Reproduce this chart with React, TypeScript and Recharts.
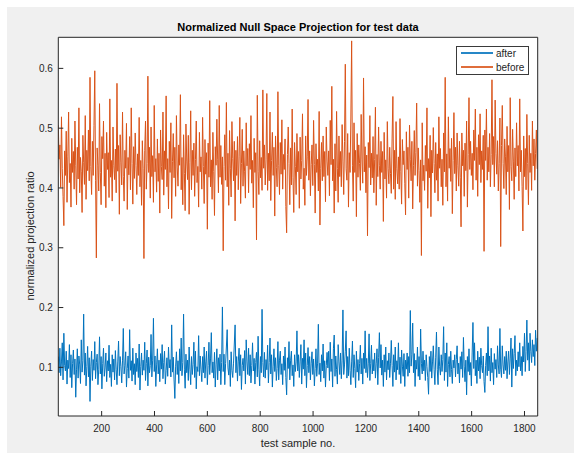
import React from 'react'
import { LineChart, Line, XAxis, YAxis, CartesianGrid, Legend } from 'recharts'

// test sample numbers: every 3rd sample, starting at 36
const sampleStart = 36
const sampleStep = 3

// normalized projection ratio, before
const before = [
  0.505, 0.448, 0.472, 0.401, 0.519, 0.433, 0.386, 0.337, 0.462, 0.421, 0.495, 0.376, 0.452, 0.527, 0.409, 0.441, 0.368, 0.483, 0.426, 0.461,
  0.398, 0.512, 0.437, 0.372, 0.468, 0.415, 0.534, 0.392, 0.451, 0.427, 0.359, 0.488, 0.443, 0.406, 0.521, 0.381, 0.463, 0.429, 0.497, 0.412,
  0.585, 0.436, 0.389, 0.478, 0.421, 0.504, 0.596, 0.412, 0.283, 0.467, 0.438, 0.395, 0.541, 0.426, 0.372, 0.486, 0.449, 0.512, 0.403, 0.458,
  0.367, 0.493, 0.431, 0.459, 0.384, 0.549, 0.418, 0.446, 0.378, 0.502, 0.437, 0.414, 0.465, 0.392, 0.575, 0.428, 0.471, 0.356, 0.489, 0.442,
  0.405, 0.527, 0.419, 0.378, 0.463, 0.433, 0.508, 0.364, 0.451, 0.422, 0.486, 0.397, 0.534, 0.441, 0.373, 0.469, 0.416, 0.492, 0.438, 0.389,
  0.457, 0.421, 0.518, 0.402, 0.446, 0.371, 0.479, 0.432, 0.282, 0.463, 0.512, 0.398, 0.441, 0.587, 0.426, 0.468, 0.383, 0.502, 0.419, 0.454,
  0.376, 0.538, 0.427, 0.449, 0.393, 0.482, 0.411, 0.458, 0.358, 0.497, 0.436, 0.414, 0.527, 0.388, 0.462, 0.431, 0.554, 0.402, 0.449, 0.365,
  0.478, 0.426, 0.509, 0.349, 0.444, 0.491, 0.417, 0.468, 0.386, 0.521, 0.435, 0.403, 0.472, 0.438, 0.556, 0.397, 0.451, 0.372, 0.489, 0.424,
  0.362, 0.507, 0.445, 0.414, 0.488, 0.356, 0.442, 0.529, 0.397, 0.463, 0.421, 0.475, 0.386, 0.448, 0.512, 0.409, 0.436, 0.368, 0.493, 0.427,
  0.452, 0.398, 0.518, 0.436, 0.374, 0.481, 0.423, 0.459, 0.331, 0.475, 0.418, 0.546, 0.402, 0.447, 0.381, 0.493, 0.428, 0.354, 0.469, 0.438,
  0.515, 0.447, 0.392, 0.538, 0.418, 0.471, 0.406, 0.452, 0.295, 0.436, 0.489, 0.413, 0.543, 0.402, 0.458, 0.371, 0.496, 0.432, 0.385, 0.511,
  0.449, 0.412, 0.478, 0.345, 0.463, 0.421, 0.486, 0.397, 0.452, 0.518, 0.374, 0.441, 0.498, 0.403, 0.462, 0.427, 0.383, 0.509, 0.437, 0.466,
  0.392, 0.474, 0.431, 0.521, 0.408, 0.446, 0.367, 0.483, 0.426, 0.459, 0.313, 0.555, 0.428, 0.389, 0.479, 0.417, 0.451, 0.396, 0.564, 0.433,
  0.472, 0.405, 0.447, 0.558, 0.396, 0.458, 0.412, 0.527, 0.379, 0.446, 0.493, 0.421, 0.468, 0.353, 0.487, 0.434, 0.402, 0.561, 0.437, 0.389,
  0.476, 0.423, 0.514, 0.398, 0.456, 0.431, 0.482, 0.369, 0.325, 0.456, 0.502, 0.441, 0.372, 0.467, 0.405, 0.532, 0.418, 0.359, 0.476, 0.436,
  0.389, 0.491, 0.427, 0.461, 0.366, 0.485, 0.415, 0.446, 0.524, 0.398, 0.433, 0.371, 0.487, 0.421, 0.452, 0.548, 0.413, 0.462, 0.387, 0.439,
  0.472, 0.404, 0.513, 0.439, 0.358, 0.474, 0.426, 0.448, 0.395, 0.528, 0.338, 0.433, 0.476, 0.412, 0.487, 0.419, 0.461, 0.377, 0.502, 0.445,
  0.421, 0.462, 0.387, 0.513, 0.439, 0.570, 0.412, 0.448, 0.358, 0.474, 0.395, 0.528, 0.433, 0.376, 0.487, 0.419, 0.461, 0.402, 0.506, 0.445,
  0.389, 0.478, 0.607, 0.432, 0.413, 0.491, 0.368, 0.459, 0.426, 0.517, 0.646, 0.437, 0.378, 0.509, 0.426, 0.463, 0.352, 0.491, 0.418, 0.472,
  0.441, 0.396, 0.523, 0.447, 0.408, 0.584, 0.427, 0.469, 0.392, 0.455, 0.320, 0.476, 0.434, 0.521, 0.405, 0.458, 0.417, 0.486, 0.392, 0.448,
  0.535, 0.371, 0.456, 0.419, 0.502, 0.437, 0.398, 0.478, 0.426, 0.461, 0.344, 0.493, 0.415, 0.447, 0.383, 0.511, 0.432, 0.407, 0.468, 0.424,
  0.391, 0.482, 0.553, 0.398, 0.463, 0.381, 0.511, 0.432, 0.407, 0.452, 0.398, 0.516, 0.427, 0.373, 0.481, 0.439, 0.462, 0.408, 0.355, 0.494,
  0.431, 0.468, 0.383, 0.505, 0.447, 0.412, 0.478, 0.365, 0.438, 0.496, 0.421, 0.459, 0.542, 0.403, 0.467, 0.429, 0.376, 0.447, 0.287, 0.509,
  0.412, 0.438, 0.396, 0.471, 0.428, 0.534, 0.366, 0.449, 0.417, 0.488, 0.352, 0.463, 0.425, 0.501, 0.441, 0.392, 0.476, 0.413, 0.457, 0.378,
  0.519, 0.433, 0.466, 0.402, 0.448, 0.371, 0.492, 0.427, 0.585, 0.402, 0.457, 0.378, 0.519, 0.433, 0.466, 0.411, 0.483, 0.357, 0.446, 0.526,
  0.424, 0.468, 0.395, 0.492, 0.437, 0.403, 0.478, 0.418, 0.335, 0.492, 0.437, 0.463, 0.386, 0.475, 0.429, 0.512, 0.368, 0.456, 0.551, 0.431,
  0.478, 0.421, 0.458, 0.397, 0.497, 0.446, 0.532, 0.413, 0.468, 0.386, 0.489, 0.439, 0.524, 0.409, 0.462, 0.431, 0.488, 0.294, 0.497, 0.446,
  0.532, 0.413, 0.468, 0.427, 0.491, 0.402, 0.456, 0.581, 0.439, 0.486, 0.402, 0.547, 0.458, 0.423, 0.479, 0.395, 0.441, 0.517, 0.302, 0.471,
  0.538, 0.441, 0.399, 0.482, 0.452, 0.389, 0.503, 0.427, 0.471, 0.364, 0.551, 0.436, 0.412, 0.498, 0.445, 0.381, 0.467, 0.419, 0.509, 0.437,
  0.471, 0.395, 0.549, 0.427, 0.463, 0.402, 0.328, 0.487, 0.419, 0.466, 0.397, 0.523, 0.441, 0.372, 0.488, 0.426, 0.458, 0.396, 0.512, 0.437,
  0.482, 0.413, 0.458, 0.497, 0.432,
]

// normalized projection ratio, after
const after = [
  0.118, 0.091, 0.132, 0.086, 0.109, 0.141, 0.079, 0.157, 0.103, 0.094, 0.127, 0.072, 0.112, 0.098, 0.138, 0.083, 0.121, 0.066, 0.106, 0.129,
  0.088, 0.114, 0.050, 0.097, 0.131, 0.082, 0.119, 0.104, 0.073, 0.146, 0.092, 0.111, 0.189, 0.087, 0.124, 0.069, 0.101, 0.135, 0.084, 0.116,
  0.043, 0.102, 0.127, 0.078, 0.113, 0.095, 0.143, 0.081, 0.108, 0.122, 0.071, 0.097, 0.151, 0.089, 0.118, 0.064, 0.106, 0.132, 0.085, 0.099,
  0.124, 0.076, 0.111, 0.094, 0.137, 0.083, 0.105, 0.068, 0.121, 0.092, 0.114, 0.079, 0.128, 0.097, 0.071, 0.109, 0.144, 0.086, 0.118, 0.101,
  0.074, 0.112, 0.165, 0.089, 0.103, 0.126, 0.067, 0.098, 0.119, 0.082, 0.163, 0.095, 0.111, 0.077, 0.132, 0.088, 0.106, 0.071, 0.124, 0.093,
  0.115, 0.083, 0.139, 0.062, 0.101, 0.124, 0.087, 0.112, 0.095, 0.142, 0.078, 0.106, 0.129, 0.069, 0.117, 0.091, 0.103, 0.155, 0.084, 0.112,
  0.182, 0.093, 0.119, 0.068, 0.104, 0.131, 0.089, 0.112, 0.076, 0.123, 0.097, 0.138, 0.081, 0.108, 0.127, 0.072, 0.095, 0.116, 0.085, 0.134,
  0.099, 0.113, 0.084, 0.171, 0.092, 0.117, 0.079, 0.048, 0.102, 0.126, 0.088, 0.111, 0.073, 0.131, 0.094, 0.149, 0.086, 0.108, 0.189, 0.097,
  0.065, 0.122, 0.091, 0.112, 0.078, 0.134, 0.097, 0.071, 0.118, 0.088, 0.105, 0.142, 0.083, 0.127, 0.064, 0.101, 0.093, 0.153, 0.086, 0.119,
  0.097, 0.076, 0.118, 0.091, 0.134, 0.082, 0.109, 0.127, 0.071, 0.103, 0.142, 0.088, 0.114, 0.158, 0.091, 0.109, 0.082, 0.125, 0.067, 0.104,
  0.131, 0.079, 0.116, 0.094, 0.122, 0.071, 0.108, 0.201, 0.093, 0.122, 0.071, 0.106, 0.134, 0.163, 0.099, 0.087, 0.112, 0.068, 0.126, 0.095,
  0.083, 0.107, 0.139, 0.171, 0.091, 0.118, 0.077, 0.109, 0.132, 0.086, 0.121, 0.063, 0.103, 0.115, 0.094, 0.128, 0.072, 0.146, 0.109, 0.088,
  0.132, 0.086, 0.121, 0.074, 0.103, 0.141, 0.094, 0.115, 0.072, 0.108, 0.125, 0.084, 0.152, 0.097, 0.069, 0.118, 0.091, 0.197, 0.108, 0.084,
  0.125, 0.082, 0.113, 0.096, 0.137, 0.074, 0.108, 0.149, 0.089, 0.121, 0.067, 0.102, 0.131, 0.093, 0.116, 0.078, 0.098, 0.143, 0.079, 0.112,
  0.127, 0.088, 0.106, 0.071, 0.119, 0.095, 0.134, 0.083, 0.054, 0.116, 0.098, 0.143, 0.079, 0.112, 0.127, 0.086, 0.104, 0.068, 0.121, 0.093,
  0.109, 0.161, 0.094, 0.121, 0.083, 0.109, 0.138, 0.072, 0.115, 0.097, 0.146, 0.086, 0.124, 0.066, 0.103, 0.133, 0.091, 0.118, 0.079, 0.107,
  0.126, 0.088, 0.114, 0.069, 0.098, 0.131, 0.085, 0.107, 0.172, 0.088, 0.107, 0.076, 0.121, 0.094, 0.139, 0.082, 0.111, 0.067, 0.103, 0.125,
  0.099, 0.127, 0.078, 0.142, 0.093, 0.114, 0.067, 0.131, 0.154, 0.085, 0.119, 0.096, 0.072, 0.138, 0.109, 0.088, 0.124, 0.081, 0.112, 0.196,
  0.088, 0.104, 0.127, 0.161, 0.082, 0.118, 0.086, 0.132, 0.095, 0.071, 0.109, 0.144, 0.083, 0.121, 0.098, 0.066, 0.127, 0.092, 0.113, 0.078,
  0.106, 0.137, 0.089, 0.115, 0.072, 0.124, 0.098, 0.161, 0.091, 0.115, 0.083, 0.107, 0.156, 0.078, 0.106, 0.137, 0.089, 0.113, 0.094, 0.124,
  0.082, 0.107, 0.131, 0.071, 0.116, 0.158, 0.099, 0.138, 0.087, 0.112, 0.068, 0.121, 0.092, 0.134, 0.079, 0.111, 0.096, 0.124, 0.083, 0.107,
  0.145, 0.103, 0.068, 0.121, 0.092, 0.134, 0.079, 0.111, 0.096, 0.141, 0.088, 0.117, 0.073, 0.129, 0.102, 0.085, 0.123, 0.068, 0.112, 0.097,
  0.124, 0.085, 0.118, 0.091, 0.195, 0.102, 0.121, 0.174, 0.091, 0.123, 0.068, 0.112, 0.097, 0.134, 0.085, 0.118, 0.079, 0.164, 0.106, 0.089,
  0.127, 0.094, 0.112, 0.078, 0.121, 0.101, 0.083, 0.055, 0.118, 0.093, 0.127, 0.082, 0.109, 0.136, 0.096, 0.071, 0.117, 0.159, 0.096, 0.071,
  0.134, 0.101, 0.087, 0.121, 0.093, 0.113, 0.168, 0.078, 0.124, 0.092, 0.141, 0.068, 0.105, 0.118, 0.084, 0.127, 0.096, 0.073, 0.112, 0.099,
  0.121, 0.084, 0.113, 0.136, 0.089, 0.107, 0.074, 0.118, 0.097, 0.126, 0.083, 0.150, 0.102, 0.076, 0.112, 0.054, 0.118, 0.093, 0.131, 0.087,
  0.108, 0.069, 0.124, 0.175, 0.098, 0.141, 0.086, 0.112, 0.073, 0.127, 0.094, 0.117, 0.081, 0.132, 0.103, 0.091, 0.119, 0.076, 0.058, 0.103,
  0.124, 0.086, 0.168, 0.094, 0.119, 0.077, 0.132, 0.091, 0.108, 0.071, 0.123, 0.097, 0.113, 0.083, 0.136, 0.104, 0.089, 0.165, 0.097, 0.083,
  0.136, 0.104, 0.089, 0.118, 0.095, 0.127, 0.081, 0.109, 0.127, 0.088, 0.114, 0.149, 0.067, 0.131, 0.098, 0.123, 0.153, 0.086, 0.112, 0.094,
  0.126, 0.101, 0.141, 0.094, 0.118, 0.086, 0.135, 0.109, 0.157, 0.093, 0.126, 0.179, 0.112, 0.141, 0.094, 0.157, 0.126, 0.108, 0.146, 0.118,
  0.138, 0.103, 0.162, 0.127, 0.149,
]

const xTicks = [200, 400, 600, 800, 1000, 1200, 1400, 1600, 1800]
const yTicks = [0.1, 0.2, 0.3, 0.4, 0.5, 0.6]
const xDomain = [36, 1850]
const yDomain = [0.0186, 0.652]

const seriesNames = ['after', 'before']
const seriesColors = ['#0072BD', '#D95319']

const chartData = after.map((v, i) => ({
  sample: sampleStart + i * sampleStep,
  after: v,
  before: before[i],
}))

const FONT = "'Liberation Sans', Arial, Helvetica, sans-serif"
const AXIS = '#262626'

// matlab style legend box, top right inside the axes
const LegendBox = () => (
  <div
    style={{
      position: 'relative',
      width: 73,
      height: 29,
      boxSizing: 'border-box',
      border: '1px solid #3a3a3a',
      background: '#fff',
      fontSize: 10,
      color: AXIS,
      fontFamily: FONT,
    }}
  >
    {seriesNames.map((name, i) => (
      <React.Fragment key={name}>
        <div
          style={{
            position: 'absolute',
            left: 4,
            top: 5 + i * 14,
            width: 32,
            height: 2,
            background: seriesColors[i],
            opacity: 0.85,
          }}
        />
        <div style={{ position: 'absolute', left: 39, top: 2 + i * 13.7, lineHeight: '10px' }}>{name}</div>
      </React.Fragment>
    ))}
  </div>
)

export default function App() {
  return (
    <div
      style={{
        position: 'absolute',
        left: 7,
        top: 7,
        width: 567,
        height: 446,
        background: '#f0f0f0',
        fontFamily: FONT,
      }}
    >
      <div
        style={{
          position: 'absolute',
          left: 51.3,
          width: 479.4,
          top: 15,
          textAlign: 'center',
          fontSize: 11,
          lineHeight: '11px',
          fontWeight: 'bold',
          color: '#000',
        }}
      >
        Normalized Null Space Projection for test data
      </div>
      <LineChart width={567} height={446} data={chartData} margin={{ top: 0, right: 0, bottom: 0, left: 0 }}>
        <CartesianGrid horizontal={false} vertical={false} fill="#fff" />
        <XAxis
          dataKey="sample"
          type="number"
          domain={xDomain}
          ticks={xTicks}
          interval={0}
          allowDataOverflow
          height={37}
          stroke={AXIS}
          tickSize={-5}
          tickMargin={14}
          tick={{ fontSize: 10, fill: AXIS }}
        />
        <XAxis
          xAxisId="top"
          orientation="top"
          dataKey="sample"
          type="number"
          domain={xDomain}
          ticks={xTicks}
          interval={0}
          allowDataOverflow
          height={30.3}
          stroke={AXIS}
          tickSize={-5}
          tick={false}
        />
        <YAxis
          type="number"
          domain={yDomain}
          ticks={yTicks}
          interval={0}
          allowDataOverflow
          width={51.3}
          stroke={AXIS}
          tickSize={-5}
          tickMargin={10.5}
          tick={{ fontSize: 10, fill: AXIS }}
        />
        <YAxis
          yAxisId="right"
          orientation="right"
          type="number"
          domain={yDomain}
          ticks={yTicks}
          interval={0}
          allowDataOverflow
          width={36.3}
          stroke={AXIS}
          tickSize={-5}
          tick={false}
        />
        <Legend
          layout="vertical"
          verticalAlign="middle"
          align="center"
          content={<LegendBox />}
          wrapperStyle={{ left: 449, top: 39, width: 73 }}
        />
        <Line dataKey="after" name="after" stroke={seriesColors[0]} strokeWidth={1} dot={false} isAnimationActive={false} />
        <Line dataKey="before" name="before" stroke={seriesColors[1]} strokeWidth={1} dot={false} isAnimationActive={false} />
      </LineChart>
      <div
        style={{
          position: 'absolute',
          left: 51.3,
          width: 479.4,
          top: 431,
          textAlign: 'center',
          fontSize: 11,
          lineHeight: '11px',
          color: AXIS,
        }}
      >
        test sample no.
      </div>
      <div
        style={{
          position: 'absolute',
          left: 22.5,
          top: 229,
          transform: 'translate(-50%, -50%) rotate(-90deg)',
          whiteSpace: 'nowrap',
          fontSize: 11,
          lineHeight: '11px',
          color: AXIS,
        }}
      >
        normalized projection ratio
      </div>
    </div>
  )
}
